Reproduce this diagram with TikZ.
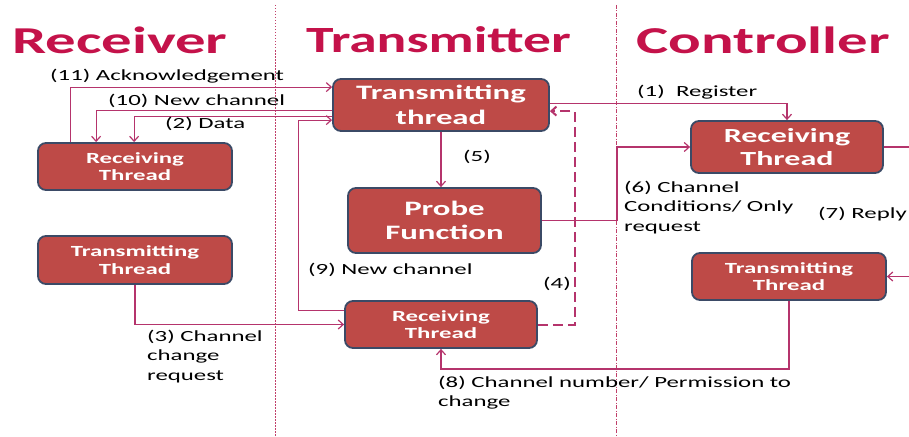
\documentclass[tikz,border=0pt]{standalone}
\usepackage{fontspec}
\newfontfamily\lab[FakeStretch=1.6]{Carlito}
\newfontfamily\labT[FakeStretch=1.5]{Carlito}
\usetikzlibrary{arrows.meta,calc}
\definecolor{boxfill}{HTML}{BE4A47}
\definecolor{boxline}{HTML}{3B4A66}
\definecolor{titlered}{HTML}{C4124A}
\definecolor{conn}{HTML}{B5346C}
\definecolor{divider}{HTML}{C0406A}
\tikzset{
  box/.style={draw=boxline, line width=1.8pt, fill=boxfill, rounded corners=8pt,
    text=white, align=center, inner sep=0pt, font=\lab\bfseries},
  smallbox/.style={box, font=\lab\bfseries\fontsize{15.5}{17.5}\selectfont},
  bigbox/.style={box, font=\lab\bfseries\fontsize{20.5}{24.5}\selectfont},
  title/.style={text=titlered, inner sep=0pt, anchor=west, font=\lab\bfseries\fontsize{38}{40}\selectfont},
  lbl/.style={inner sep=0pt, anchor=west, align=left, text=black, font=\lab\fontsize{15.5}{19.5}\selectfont},
  arr/.style={draw=conn, line width=1.2pt, -{Straight Barb[length=5pt,width=9pt]}},
  dasharr/.style={arr, line width=2pt, dash pattern=on 10pt off 5pt},
}
\begin{document}
\begin{tikzpicture}[x=1pt,y=-1pt]
\useasboundingbox (0,0) rectangle (909,436);
\clip (0,0) rectangle (909,436);
% dividers
\draw[divider, line width=1pt, dash pattern=on 1.5pt off 1.5pt] (275,5) -- (275,436);
\draw[divider, line width=1pt, dash pattern=on 4pt off 1.5pt on 1pt off 1.5pt] (616,5) -- (616,436);
% titles
\node[title] (tR) at (12,40) {Receiver};
\node[title, font=\labT\bfseries\fontsize{37}{40}\selectfont] (tT) at (306,40) {Transmitter};
\node[title] (tC) at (636,40) {Controller};
% boxes
\node[smallbox, minimum width=194pt, minimum height=47pt] (rRecv) at (135,166.5) {Receiving\\Thread};
\node[smallbox, minimum width=194pt, minimum height=48pt] (rTrans) at (135,260) {Transmitting\\Thread};
\node[bigbox, minimum width=216pt, minimum height=52pt] (tTrans) at (441,105) {Transmitting\\thread};
\node[bigbox, minimum width=193pt, minimum height=65pt] (tProbe) at (444.5,220.5) {Probe\\Function};
\node[smallbox, minimum width=192pt, minimum height=47pt] (tRecv) at (441,324.5) {Receiving\\Thread};
\node[bigbox, font=\lab\bfseries\fontsize{20}{23}\selectfont, minimum width=192pt, minimum height=52pt] (cRecv) at (787,147) {Receiving\\Thread};
\node[smallbox, minimum width=194pt, minimum height=47pt] (cTrans) at (789,276.5) {Transmitting\\Thread};
% connectors
\draw[arr] ([xshift=33pt]rRecv.north west) |- ([yshift=-9pt]tTrans.north west);
\draw[arr] ([yshift=-32pt]tTrans.north west) -| ([xshift=59pt]rRecv.north west);
\draw[arr] ([yshift=-38pt]tTrans.north west) -| ([xshift=97pt]rRecv.north west);
\draw[arr] ([yshift=-10pt]tRecv.north west) -- ++(-46,0) |- ([yshift=-42pt]tTrans.north west);
\draw[arr] (rTrans.south) |- (tRecv.west);
\draw[arr] (tTrans.south) -- (tTrans.south |- tProbe.north);
\draw[dasharr] (tRecv.east) -- ++(37,0) |- ([yshift=-33pt]tTrans.north east);
\draw[arr] ([yshift=-25pt]tTrans.north east) -| (cRecv.north);
\draw[arr] (tProbe.east) -- ++(75,0) |- (cRecv.west);
\draw[arr] (cRecv.east) -- ++(28,0) |- (cTrans.east);
\draw[arr] (cTrans.south) -- ++(0,68) -| (tRecv.south);
% labels
\node[lbl] (l11) at (50,76) {(11) Acknowledgement};
\node[lbl] (l10) at (108,101) {(10) New channel};
\node[lbl] (l2) at (165,124) {(2) Data};
\node[lbl] (l5) at (463,157) {(5)};
\node[lbl] (l1) at (637,92) {(1)\ \ Register};
\node[lbl] (l6) at (624,207.5) {(6) Channel\\Conditions/ Only\\request};
\node[lbl] (l7) at (818,214) {(7) Reply};
\node[lbl] (l9) at (308,270) {(9) New channel};
\node[lbl] (l4) at (543,284) {(4)};
\node[lbl] (l3) at (147,356.5) {(3) Channel\\change\\request};
\node[lbl] (l8) at (438,392.5) {(8) Channel number/ Permission to\\change};
\end{tikzpicture}
\end{document}
